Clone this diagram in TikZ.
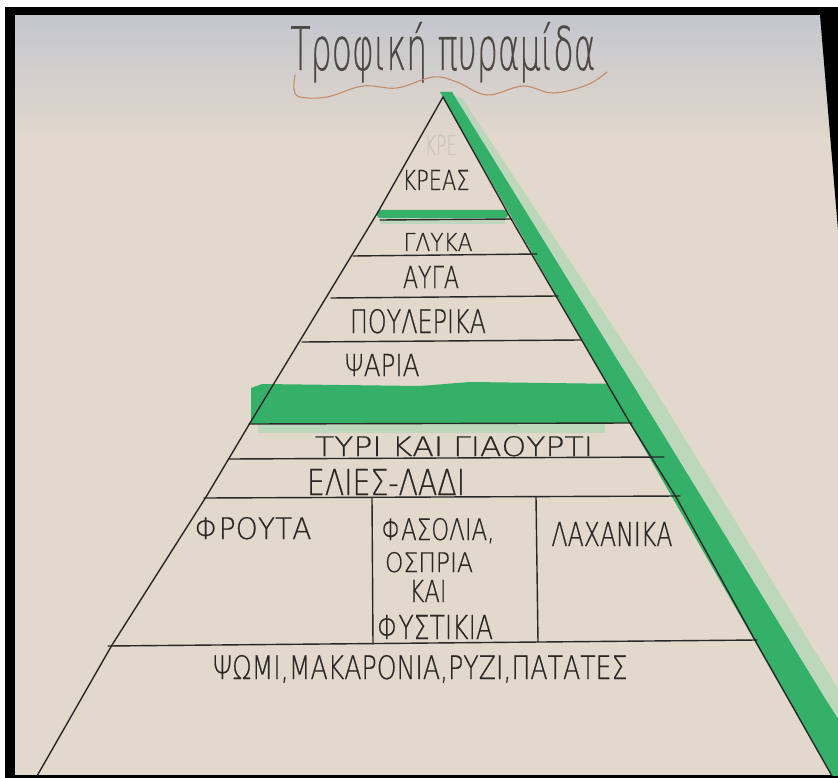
\documentclass[tikz,border=0pt]{standalone}
\usepackage{fontspec}
\usepackage{graphicx}
\IfFontExistsTF{DejaVu Sans ExtraLight}{\newfontfamily\hand[FakeBold=0.6]{DejaVu Sans ExtraLight}}{\newfontfamily\hand{DejaVu Sans}}
\definecolor{paper}{RGB}{226,216,203}
\definecolor{papertop}{RGB}{196,198,206}
\definecolor{pencil}{RGB}{42,40,38}
\definecolor{titleink}{RGB}{78,72,68}
\definecolor{mark}{RGB}{52,176,105}
\definecolor{marklight}{RGB}{160,215,178}
\definecolor{copper}{RGB}{196,140,105}
\definecolor{ghost}{RGB}{205,198,190}
\newcommand{\lbl}[3]{\resizebox{#1pt}{#2pt}{\hand #3}}
\begin{document}
\begin{tikzpicture}[x=1pt,y=-1pt,
  lab/.style={inner sep=0pt, anchor=base, text=pencil},
  pen/.style={draw=pencil, line width=1.4pt, line cap=round, line join=round},
  greenband/.style={fill=mark},
  greenglow/.style={fill=marklight, opacity=0.55}]
\useasboundingbox (0,0) rectangle (838,778);
% frame and paper
\fill[white] (0,0) rectangle (838,778);
\fill[paper] (15,15) rectangle (838,775);
\shade[top color=papertop, bottom color=paper] (15,15) rectangle (838,140);
\fill[black] (5,7) rectangle (838,15);
\fill[black] (5,7) rectangle (15,778);
\fill[black] (5,775) rectangle (838,778);
\fill[black] (820,15) -- (838,15) -- (838,230) -- cycle;
% green marker
\begin{scope}
\clip (15,15) rectangle (838,775);
\fill[greenglow] (441,93) -- (462,98) -- (655,390) -- (845,700) -- (895,778) -- (835,778) -- cycle;
\fill[greenband] (440,92) -- (452,92) -- (636,390) -- (826,700) -- (876,778) -- (833,778) -- cycle;
\fill[greenband, rounded corners=3pt] (377,210) rectangle (508,218);
\fill[greenglow] (380,218) rectangle (505,224);
\fill[greenband] (251,388) -- (262,384) -- (420,386) -- (470,382) -- (625,384) -- (630,423) -- (251,424) -- cycle;
\fill[greenglow] (258,424) rectangle (605,433);
\end{scope}
% title
\node[lab, text=titleink] (title) at (443,70) {\lbl{305}{48}{Τροφική πυραμίδα}};
\draw[copper, line width=1.1pt, line cap=round] plot[smooth, tension=0.6] coordinates {(295,75) (294,89) (300,97) (327,97) (363,86) (397,88) (433,77) (457,82) (487,95) (523,86) (553,93) (587,85) (607,72)};
% pyramid outline
\draw[pen] (443,97) -- (378,212) -- (250,423) -- (206,497) -- (112,645) -- (37,776);
\draw[pen] (443,97) -- (510,217) -- (630,423) -- (676,497) -- (756,642) -- (832,776);
% layers
\draw[pen] (380,220) -- (512,219);
\draw[pen] (353,256) -- (537,254);
\draw[pen] (331,298) -- (558,296);
\draw[pen] (302,342) -- (581,340);
\draw[pen] (249,424) -- (632,423);
\draw[pen] (229,459) -- (664,457);
\draw[pen] (204,498) -- (680,496);
\draw[pen] (108,646) -- (757,640);
\draw[pen] (372,498) -- (373,644);
\draw[pen] (536,497) -- (538,642);
% labels
\node[lab, text=ghost] (ghost) at (441,155) {\lbl{32}{20}{ΚΡΕ}};
\node[lab] (meat) at (436,190) {\lbl{67}{20}{ΚΡΕΑΣ}};
\node[lab] (sweets) at (438,251) {\lbl{69}{18}{ΓΛΥΚΑ}};
\node[lab] (eggs) at (431,288) {\lbl{56}{22}{ΑΥΓΑ}};
\node[lab] (poultry) at (418,333) {\lbl{136}{24}{ΠΟΥΛΕΡΙΚΑ}};
\node[lab] (fish) at (382,376) {\lbl{75}{22}{ΨΑΡΙΑ}};
\node[lab] (dairy) at (454,456) {\lbl{278}{20}{ΤΥΡΙ ΚΑΙ ΓΙΑΟΥΡΤΙ}};
\node[lab] (oil) at (386,495) {\lbl{158}{26}{ΕΛΙΕΣ-ΛΑΔΙ}};
\node[lab] (fruit) at (253,539) {\lbl{117}{22}{ΦΡΟΥΤΑ}};
\node[lab] (beans) at (438,540) {\lbl{113}{22}{ΦΑΣΟΛΙΑ,}};
\node[lab] (pulses) at (429,572) {\lbl{88}{20}{ΟΣΠΡΙΑ}};
\node[lab] (and) at (428,602) {\lbl{37}{22}{ΚΑΙ}};
\node[lab] (nuts) at (435,639) {\lbl{116}{24}{ΦΥΣΤΙΚΙΑ}};
\node[lab] (veg) at (612,546) {\lbl{121}{24}{ΛΑΧΑΝΙΚΑ}};
\node[lab] (bread) at (420,679) {\lbl{415}{24}{ΨΩΜΙ,ΜΑΚΑΡΟΝΙΑ,ΡΥΖΙ,ΠΑΤΑΤΕΣ}};
\end{tikzpicture}
\end{document}
